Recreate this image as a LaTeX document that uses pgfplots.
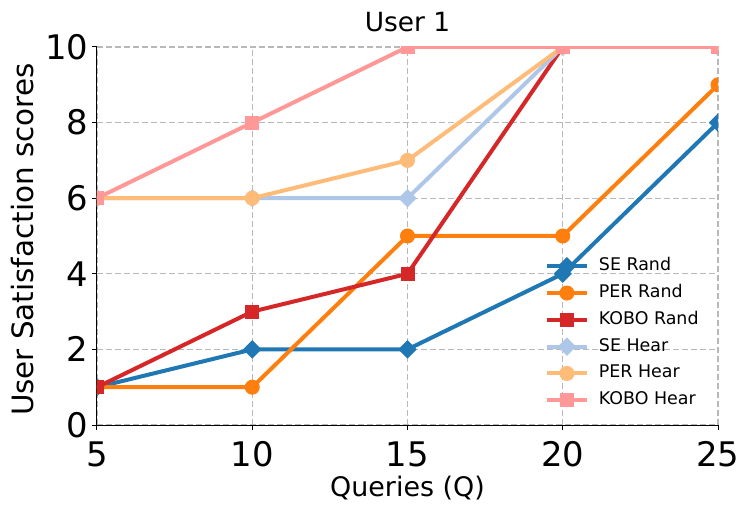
\documentclass[border=0pt]{standalone}
\usepackage{fontspec}
\setmainfont{DejaVu Sans}
\usepackage{pgfplots}
\pgfplotsset{compat=1.18}
\definecolor{c1}{HTML}{1F77B4}
\definecolor{c2}{HTML}{FF7F0E}
\definecolor{c3}{HTML}{D62728}
\definecolor{c4}{HTML}{AEC7E8}
\definecolor{c5}{HTML}{FFBB78}
\definecolor{c6}{HTML}{FF9896}
\begin{document}
\begin{tikzpicture}
\begin{axis}[
 scale only axis, width=621bp, height=378bp,
 xmin=5, xmax=25, ymin=0, ymax=10,
 xtick={5,10,15,20,25}, ytick={0,2,4,6,8,10},
 axis lines=left, axis line style={-, line width=1bp, black},
 tick align=outside, tick style={line width=1bp, black}, major tick length=5bp,
 grid=major, major grid style={dash pattern=on 6bp off 3bp, line width=1.2bp, black!28},
 tick label style={font=\fontsize{34}{40}\selectfont},
 xticklabel style={yshift=-8bp},
 /pgf/number format/assume math mode=true,
 clip mode=individual, clip marker paths=true,
 every axis x label/.style={at={(axis description cs:0.5,-0.19)}, anchor=base, font=\fontsize{27}{32}\selectfont},
 every axis y label/.style={at={(axis description cs:-0.103,0.49)}, rotate=90, anchor=base, font=\fontsize{29.5}{34}\selectfont},
 every axis title/.style={at={(axis description cs:0.5,1.0397)}, anchor=base, font=\fontsize{26.5}{31}\selectfont},
 xlabel={Queries (Q)}, ylabel={User Satisfaction scores}, title={User 1},
 legend style={draw=none, fill=none, inner sep=0bp, font=\fontsize{17.5}{21}\selectfont,
   at={(rel axis cs:0.721,0.443)}, anchor=north west,
   nodes={inner sep=0bp, text height=13bp, text depth=4bp}, row sep=9.8bp, column sep=10bp},
 legend cell align=left,
 legend image code/.code={\draw[mark repeat=2,mark phase=2] plot coordinates {(0bp,0bp) (20bp,0bp) (40bp,0bp)};},
 every axis plot/.append style={line width=4bp},
]
\coordinate (sw) at (rel axis cs:0,0);
\addplot[c1, mark=square*, mark size=6bp, mark options={rotate=45, line width=1bp}] coordinates {(5,1) (10,2) (15,2) (20,4) (25,8)};
\addplot[c2, mark=*, mark size=7bp, mark options={line width=1bp}] coordinates {(5,1) (10,1) (15,5) (20,5) (25,9)};
\addplot[c3, mark=square*, mark size=6.5bp, mark options={line width=1bp}] coordinates {(5,1) (10,3) (15,4) (20,10) (25,10)};
\addplot[c4, mark=square*, mark size=6bp, mark options={rotate=45, line width=1bp}] coordinates {(5,6) (10,6) (15,6) (20,10) (25,10)};
\addplot[c5, mark=*, mark size=7bp, mark options={line width=1bp}] coordinates {(5,6) (10,6) (15,7) (20,10) (25,10)};
\addplot[c6, mark=square*, mark size=6.5bp, mark options={line width=1bp}] coordinates {(5,6) (10,8) (15,10) (20,10) (25,10)};
\legend{SE Rand, PER Rand, KOBO Rand, SE Hear, PER Hear, KOBO Hear}
\end{axis}
\pgfresetboundingbox
\path ([shift={(-97bp,-87bp)}]sw) rectangle ++(749bp,512bp);
\end{tikzpicture}
\end{document}
